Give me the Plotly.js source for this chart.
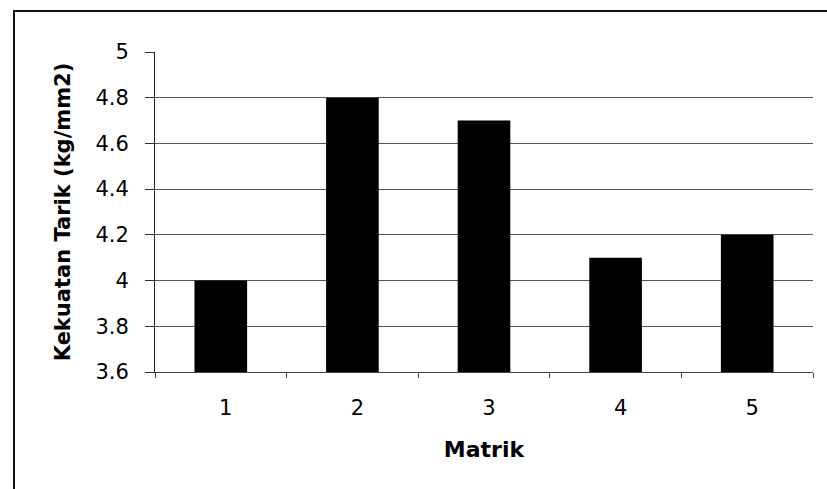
<!DOCTYPE html>
<html>
<head>
<meta charset="utf-8">
<script src="https://cdn.plot.ly/plotly-3.0.1.min.js"></script>
<style>
html,body{margin:0;padding:0;background:#fff;}
#wrap{position:relative;width:827px;height:489px;overflow:hidden;}
#chart{width:827px;height:489px;}
#frame{position:absolute;left:13px;top:10px;width:830px;height:500px;border-left:2px solid #111;border-top:2px solid #111;pointer-events:none;}
</style>
</head>
<body>
<div id="wrap"><div id="chart"></div><div id="frame"></div></div>
<script>
const categories = ["1", "2", "3", "4", "5"];
const values = [4.0, 4.8, 4.7, 4.1, 4.2];
const gridTicks = [3.6, 3.8, 4.0, 4.2, 4.4, 4.6, 4.8];
const gridLabels = ["3.6", "3.8", "4", "4.2", "4.4", "4.6", "4.8"];
const topTick = [5];
const topLabel = ["5"];
const yRange = [3.6, 5.0];
const xTitle = "Matrik";
const yTitle = "Kekuatan Tarik (kg/mm2)";

const tickFont = {family: "DejaVu Sans", size: 21, color: "#000"};

const data = [
  {type: "bar", x: categories, y: values, marker: {color: "#000", line: {width: 0}}, hoverinfo: "x+y"},
  {type: "scatter", x: [categories[0]], y: [yRange[0]], yaxis: "y2", mode: "markers", marker: {opacity: 0}, hoverinfo: "skip", showlegend: false}
];

const layout = {
  width: 827, height: 489,
  margin: {l: 155, r: 14, t: 52, b: 117},
  paper_bgcolor: "#fff", plot_bgcolor: "#fff",
  showlegend: false,
  bargap: 0.6,
  xaxis: {
    type: "category",
    tickson: "boundaries",
    ticks: "outside", ticklen: 5, tickcolor: "#444",
    showline: true, linecolor: "#444", linewidth: 1,
    showgrid: false,
    tickfont: tickFont,
    ticklabelstandoff: 17,
    ticklabelshift: 5,
    title: {text: xTitle, font: {family: "DejaVu Sans", size: 22, color: "#000", weight: "bold"}, standoff: 22},
    automargin: false
  },
  yaxis: {
    range: yRange,
    tickmode: "array", tickvals: gridTicks, ticktext: gridLabels,
    ticks: "outside", ticklen: 9, tickcolor: "#333",
    showline: true, linecolor: "#222", linewidth: 1,
    showgrid: true, gridcolor: "#555", gridwidth: 1,
    zeroline: false,
    tickfont: tickFont,
    ticklabelstandoff: 12,
    title: {text: yTitle, font: {family: "DejaVu Sans", size: 21, color: "#000", weight: "bold"}, standoff: 19},
    automargin: false
  },
  yaxis2: {
    overlaying: "y", side: "left",
    range: yRange,
    tickmode: "array", tickvals: topTick, ticktext: topLabel,
    ticks: "outside", ticklen: 9, tickcolor: "#333",
    showline: false, showgrid: false, zeroline: false,
    tickfont: tickFont,
    ticklabelstandoff: 12
  }
};

Plotly.newPlot("chart", data, layout, {displayModeBar: false, staticPlot: true});
</script>
</body>
</html>
